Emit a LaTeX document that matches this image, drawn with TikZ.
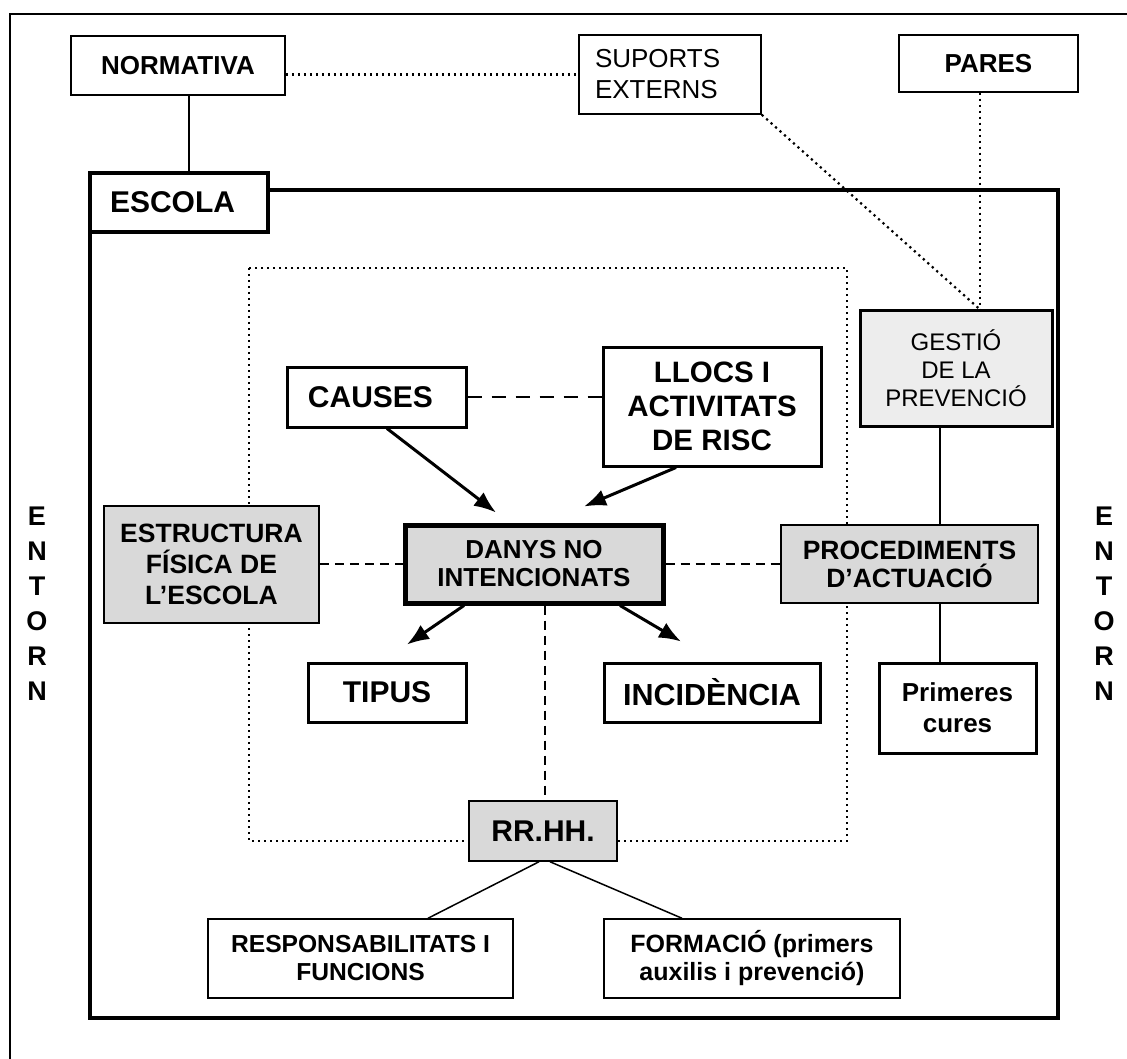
\documentclass[tikz,border=0pt]{standalone}
\usepackage{fontspec}
\setmainfont{Liberation Sans}
\usetikzlibrary{arrows.meta}
\definecolor{boxgray}{HTML}{D9D9D9}
\definecolor{palegray}{HTML}{EDEDED}
\begin{document}
\begin{tikzpicture}[x=1pt,y=-1pt,
  box/.style={draw, fill=white, align=center, inner sep=0pt, line width=1.5pt},
  heavy/.style={line width=3pt},
  shaded/.style={fill=boxgray},
  fs/.style 2 args={font=\fontsize{#1}{#2}\selectfont\bfseries},
  fr/.style 2 args={font=\fontsize{#1}{#2}\selectfont},
  arr/.style={line width=3pt, -{Latex[length=22pt,width=17pt]}},
  dotline/.style={line width=2.2pt, dash pattern=on 2.2pt off 3.8pt},
  thindash/.style={line width=1.5pt, dash pattern=on 9pt off 6pt},
  thickdash/.style={line width=2.6pt, dash pattern=on 14pt off 10pt},
  link/.style={line width=1.5pt},
  side/.style={fs={27}{35}, align=center, inner sep=0pt}]

\useasboundingbox (0,0) rectangle (1127,1059);

% surroundings frame, school frame and the inner risk area
\draw[line width=2.5pt] (10,1059) -- (10,14) -- (1127,14);
\draw[line width=3.5pt] (90,190) rectangle (1058,1018);
\draw[dotline] (249,268) rectangle (847,841);

% outside the school
\node[box, fs={26}{28}, minimum width=214pt, minimum height=59pt] (normativa) at (178,65.5) {NORMATIVA};
\node[box, fr={26}{31}, minimum width=182pt, minimum height=79pt, text width=150pt, inner xsep=16pt, align=left] (suports) at (670,74.5) {SUPORTS\\EXTERNS};
\node[box, fs={26}{28}, minimum width=179pt, minimum height=57pt] (pares) at (988.5,63.5) {PARES};

\node[box, line width=3.5pt, fs={30}{34}, minimum width=178pt, minimum height=59pt, text width=138pt, inner xsep=20pt, align=left] (escola) at (179,202.5) {ESCOLA};

% inside the school
\node[box, heavy, fill=palegray, fr={24}{28}, minimum width=192pt, minimum height=115pt] (gestio) at (956,368.5) {GESTIÓ\\DE LA\\PREVENCIÓ};
\node[box, heavy, fs={30}{34}, minimum width=179pt, minimum height=60pt] (causes) at (376.5,397) {CAUSES\hspace*{12pt}};
\node[box, heavy, fs={29.5}{34}, minimum width=218pt, minimum height=119pt] (llocs) at (712,406.5) {LLOCS I\\ACTIVITATS\\DE RISC};
\node[box, shaded, fs={26.5}{31}, minimum width=215pt, minimum height=117pt] (estructura) at (211.5,564.5) {ESTRUCTURA\\FÍSICA DE\\L’ESCOLA};
\node[box, shaded, line width=5pt, fs={26}{28}, minimum width=258pt, minimum height=78pt] (danys) at (534,564) {DANYS NO\\INTENCIONATS};
\node[box, shaded, fs={26.5}{28}, minimum width=257pt, minimum height=78pt] (proced) at (909.5,564) {PROCEDIMENTS\\D’ACTUACIÓ};
\node[box, heavy, fs={30}{34}, minimum width=158pt, minimum height=59pt] (tipus) at (387,692.5) {TIPUS};
\node[box, heavy, fs={30.5}{34}, minimum width=216pt, minimum height=59pt] (incid) at (712,692.5) {INCIDÈNCIA};
\node[box, heavy, fs={26}{31}, minimum width=157pt, minimum height=90pt] (primeres) at (957.5,708) {Primeres\\cures};
\node[box, shaded, fs={30}{34}, minimum width=148pt, minimum height=60pt] (rrhh) at (543,831) {RR.HH.};
\node[box, fs={24.6}{28}, minimum width=305pt, minimum height=79pt] (resp) at (360.5,958.5) {RESPONSABILITATS I\\FUNCIONS};
\node[box, fs={25}{28}, minimum width=296pt, minimum height=79pt] (formacio) at (752,958.5) {FORMACIÓ (primers\\auxilis i prevenció)};

% ENTORN on both sides
\node[side] (entornL) at (37,603.5) {E\\N\\T\\O\\R\\N};
\node[side] (entornR) at (1104,603.5) {E\\N\\T\\O\\R\\N};

% connections outside
\draw[link] ([shift={(11,0)}]normativa.south) -- ([shift={(10,0)}]escola.north);
\draw[dotline] (normativa.east |- suports.west) -- (suports.west);
\coordinate (gtop) at ([shift={(24,0)}]gestio.north);
\draw[dotline] (suports.south east) -- (gtop);
\draw[dotline] ([shift={(-8.5,0)}]pares.south) -- (gtop);

% connections inside
\draw[link] ([shift={(-16,0)}]gestio.south) -- ([shift={(30.5,0)}]proced.north);
\draw[link] ([shift={(30.5,0)}]proced.south) -- ([shift={(-17.5,0)}]primeres.north);
\draw[thickdash] (causes.east) -- (causes.east -| llocs.west);
\draw[arr] ([shift={(10.5,0)}]causes.south) -- ([shift={(-38,-10)}]danys.north);
\draw[arr] ([shift={(-36,0)}]llocs.south) -- ([shift={(50,-16)}]danys.north);
\draw[thindash] (estructura.east |- danys.west) -- (danys.west);
\draw[thindash] (danys.east) -- (proced.west);
\draw[arr] ([shift={(-70,0)}]danys.south) -- ([shift={(20,-17)}]tipus.north);
\draw[arr] ([shift={(86,0)}]danys.south) -- ([shift={(-31,-20)}]incid.north);
\draw[thindash] ([shift={(11,0)}]danys.south) -- ([shift={(2,0)}]rrhh.north);
\draw[link] ([shift={(-4,0)}]rrhh.south) -- ([shift={(67.5,0)}]resp.north);
\draw[link] ([shift={(7,0)}]rrhh.south) -- ([shift={(-70,0)}]formacio.north);
\end{tikzpicture}
\end{document}
